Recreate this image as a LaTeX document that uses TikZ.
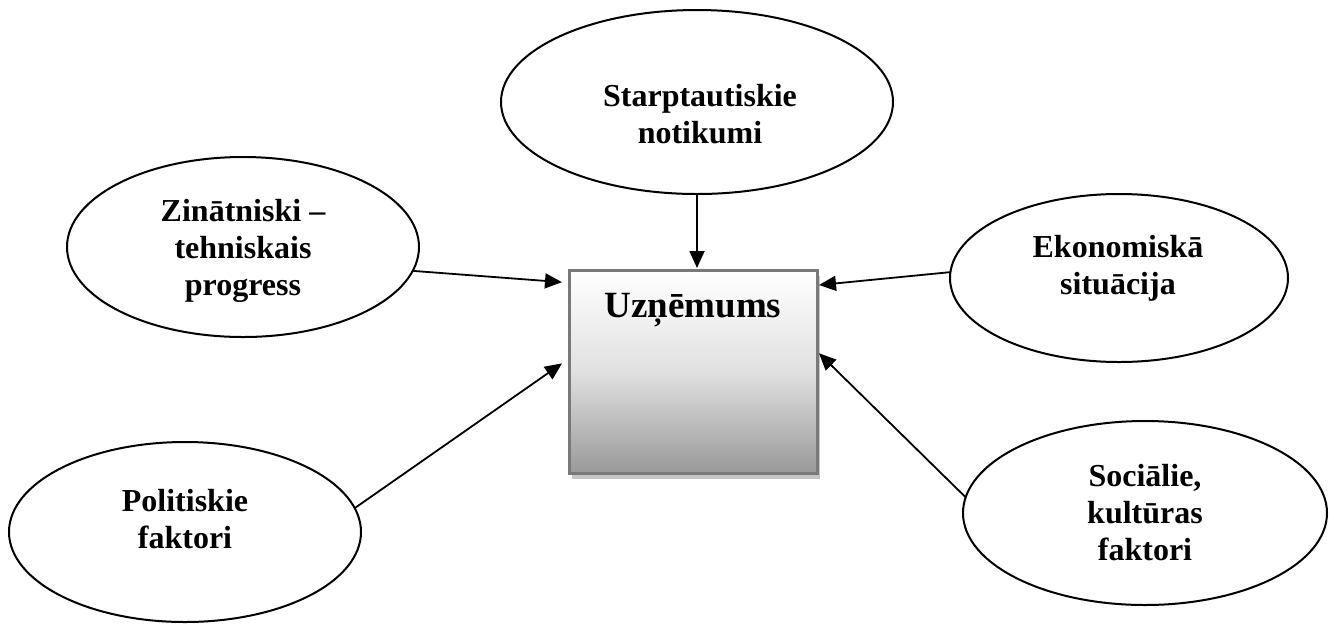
\documentclass[tikz,border=0pt]{standalone}
\usepackage{fontspec}
\setmainfont{Liberation Serif}
\usetikzlibrary{shapes.geometric,arrows.meta,calc}
\begin{document}
\begin{tikzpicture}[x=0.5pt,y=-0.5pt,
  ell/.style={draw=black,line width=1pt,ellipse,inner sep=0pt,outer sep=0pt},
  lbl/.style={align=center,font=\bfseries\fontsize{16}{18.5}\selectfont,inner sep=0pt},
  arr/.style={line width=0.9pt,-{Triangle[length=8.5pt,width=7.5pt]}}]
\useasboundingbox (0,0) rectangle (1329,623);
% ellipses
\node[ell,minimum width=196pt,minimum height=92pt] (st) at (697,102) {};
\node[ell,minimum width=176pt,minimum height=90pt] (zin) at (243,247) {};
\node[ell,minimum width=169pt,minimum height=84pt] (eko) at (1119,278) {};
\node[ell,minimum width=176pt,minimum height=90pt] (pol) at (185,532) {};
\node[ell,minimum width=182pt,minimum height=92pt] (soc) at (1145,513) {};
% labels
\node[lbl] (stl) at (700,114) {Starptautiskie\\notikumi};
\node[lbl] (zinl) at (243,251) {Zinātniski –\\tehniskais\\progress};
\node[lbl] (ekol) at (1118,268) {Ekonomiskā\\situācija};
\node[lbl] (poll) at (185,519) {Politiskie\\faktori};
\node[lbl] (socl) at (1145,513) {Sociālie,\\kultūras\\faktori};
% box shadow and box
\fill[gray!45] (572,276) rectangle (820,479);
\node[rectangle,draw=gray!95!black,line width=1.5pt,inner sep=0pt,outer sep=0pt,
  minimum width=124pt,minimum height=101.5pt,
  top color=white,bottom color=black!40,middle color=white!88!black] (box) at (693,371.5) {};
\node[font=\bfseries\fontsize{18.5}{22}\selectfont,anchor=base,inner sep=0pt] (title) at (693,317) {Uzņēmums};
% arrow tips
\coordinate (tz) at ($(box.north west)!0.06!(box.south west)+(-7,0)$);
\coordinate (tp) at ($(box.north west)!0.46!(box.south west)+(-7,0)$);
\coordinate (te) at ($(box.north east)!0.074!(box.south east)+(2,0)$);
\coordinate (ts) at ($(box.north east)!0.41!(box.south east)+(2,0)$);
\coordinate (tt) at ($(st.south |- box.north)+(0,-2)$);
% arrows
\draw[arr] (st.south) -- (tt);
\draw[arr] (zin.-8) -- (tz);
\draw[arr] (pol.8) -- (tp);
\draw[arr] (eko.178) -- (te);
\draw[arr] (soc.175) -- (ts);
\end{tikzpicture}
\end{document}
